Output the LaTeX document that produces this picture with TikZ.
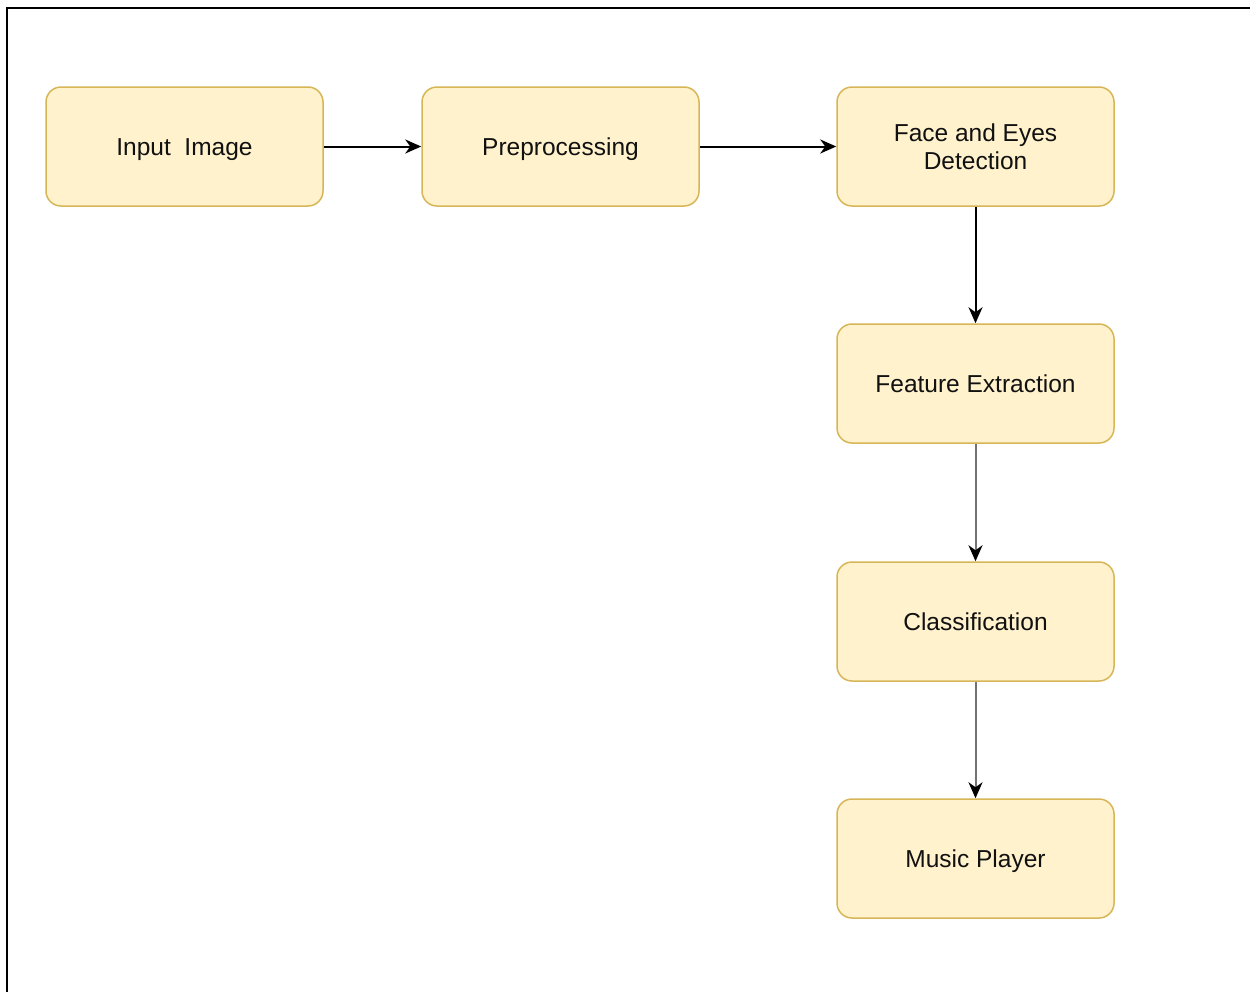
\documentclass[tikz,border=0pt]{standalone}
\usepackage{fontspec}
\setmainfont{Liberation Sans}
\usetikzlibrary{arrows.meta}
\definecolor{boxfill}{HTML}{FFF2CC}
\definecolor{boxline}{HTML}{D6B656}
\definecolor{txt}{HTML}{111111}
\newcommand{\lowtxt}[1]{\raisebox{0pt}[20pt][1.5pt]{#1}}
\begin{document}
\begin{tikzpicture}[x=1pt,y=-1pt,
  blk/.style={draw=boxline, fill=boxfill, line width=1.5pt, rounded corners=15pt,
    minimum width=277pt, minimum height=119pt, inner sep=0pt, align=center,
    text=txt, font=\fontsize{24.5}{28}\selectfont},
  conn/.style={line width=2pt, -{Stealth[black,length=16pt,width=14pt,inset=5pt]}},
  gconn/.style={conn, draw=black!55}]
\useasboundingbox (0,0) rectangle (1250,991);
\draw[line width=2.5pt] (7,8) rectangle (1270,1010);
\node[blk] (inp) at (184.5,146.5) {\lowtxt{Input\ \ Image}};
\node[blk] (pre) at (560.5,146.5) {\lowtxt{Preprocessing}};
\node[blk] (face) at (975.5,146.5) {Face and Eyes\\Detection};
\node[blk] (feat) at (975.5,383.5) {\lowtxt{Feature Extraction}};
\node[blk] (cls) at (975.5,621.5) {\lowtxt{Classification}};
\node[blk] (mus) at (975.5,858.5) {\lowtxt{Music Player}};
\draw[conn] (inp) -- (pre);
\draw[conn] (pre) -- (face);
\draw[conn] (face) -- (feat);
\draw[gconn] (feat) -- (cls);
\draw[gconn] (cls) -- (mus);
\end{tikzpicture}
\end{document}
